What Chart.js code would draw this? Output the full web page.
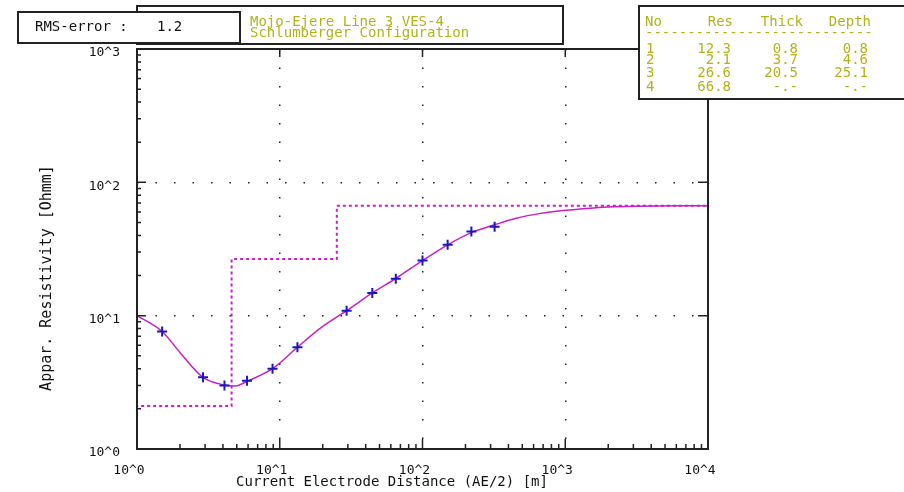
<!DOCTYPE html>
<html>
<head>
<meta charset="utf-8">
<script src="https://cdn.jsdelivr.net/npm/chart.js@4.4.1/dist/chart.umd.min.js"></script>
<style>
  html, body { margin: 0; padding: 0; background: #fff; }
  #wrap { width: 904px; height: 492px; }
</style>
</head>
<body>
<div id="wrap"><canvas id="chart-ves" width="904" height="492"></canvas></div>
<script>
// ── Data ──
const measAB = [1.5, 2.9, 4.1, 5.9, 8.9, 13.3, 29.4, 44.5, 65, 100, 150, 220, 320];
const measRho = [7.6, 3.45, 3.0, 3.25, 4.0, 5.8, 10.9, 14.8, 18.9, 25.9, 34, 42.7, 46.5];

const modelAB = [1, 1.5, 2, 2.9, 4.1, 4.9, 5.9, 8.9, 13.3, 20, 29.4, 44.5, 65, 100, 150, 220, 320, 460, 670, 970, 1500, 2200, 3200, 10000];
const modelRho = [10, 7.6, 5.3, 3.45, 3.02, 2.97, 3.22, 4.0, 5.8, 8.3, 10.9, 14.8, 19.0, 25.9, 34, 42, 48, 54, 58.5, 61.5, 64, 65.5, 66.3, 66.8];

// layered model (table)
const layerNo = ["1", "2", "3", "4"];
const layerRes = [12.3, 2.1, 26.6, 66.8];
const layerThick = [0.8, 3.7, 20.5, null];
const layerDepth = [0.8, 4.6, 25.1, null];

const titleLines = ["Mojo-Ejere Line 3 VES-4", "Schlumberger Configuration"];
const rmsError = "1.2";

const OLIVE = "#b2b21a";
const MAGENTA = "#c81ec8";
const FRAME = "#222";
const MONO = "'DejaVu Sans Mono', monospace";

// step line of the layered model: start left of the axis, step at each depth
const stepX = [0.5, ...layerDepth.filter(d => d !== null), 10000];
const stepY = [...layerRes, layerRes[layerRes.length - 1]];

const isDecade = v => Math.abs(Math.log10(v) - Math.round(Math.log10(v))) < 1e-9;
const expLabel = v => isDecade(v) ? "10^" + Math.round(Math.log10(v)) : "";

// ── Frame, minor ticks, boxes and text ──
const overlay = {
  id: "overlay",
  afterDraw(chart) {
    const { ctx, chartArea: a, scales: { x, y } } = chart;
    ctx.save();
    ctx.strokeStyle = FRAME;
    ctx.lineWidth = 2;
    ctx.strokeRect(a.left, a.top, a.right - a.left, a.bottom - a.top);

    ctx.lineWidth = 1.5;
    ctx.beginPath();
    for (let e = 0; e < 4; e++) {
      for (let k = 1; k <= 9; k++) {
        const v = k * Math.pow(10, e);
        const px = x.getPixelForValue(v);
        const major = k === 1;
        if (v > 1) {
          ctx.moveTo(px, a.bottom); ctx.lineTo(px, a.bottom - (major ? 10 : 5));
          if (major) { ctx.moveTo(px, a.top); ctx.lineTo(px, a.top + 8); }
        }
        if (e < 3 && v > 1) {
          const py = y.getPixelForValue(v);
          ctx.moveTo(a.left, py); ctx.lineTo(a.left + (major ? 9 : 4), py);
          if (major) { ctx.moveTo(a.right, py); ctx.lineTo(a.right - 10, py); }
        }
      }
    }
    ctx.stroke();

    // title box
    ctx.lineWidth = 2;
    ctx.fillStyle = "#fff";
    ctx.fillRect(137, 6, 426, 38);
    ctx.strokeRect(137, 6, 426, 38);
    ctx.fillStyle = OLIVE;
    ctx.font = "14px " + MONO;
    ctx.textBaseline = "middle";
    ctx.textAlign = "left";
    ctx.fillText(titleLines[0], 250, 22);
    ctx.fillText(titleLines[1], 250, 33);

    // RMS box
    ctx.fillStyle = "#fff";
    ctx.fillRect(18, 12, 222, 31);
    ctx.strokeRect(18, 12, 222, 31);
    ctx.fillStyle = "#111";
    ctx.fillText("RMS-error :", 35, 27);
    ctx.fillText(rmsError, 157, 27);

    // layer table box
    ctx.fillStyle = "#fff";
    ctx.fillRect(639, 6, 280, 93);
    ctx.strokeRect(639, 6, 280, 93);
    ctx.fillStyle = OLIVE;
    ctx.textAlign = "left";
    ctx.fillText("No", 645, 22);
    ctx.textAlign = "right";
    ctx.fillText("Res", 733, 22);
    ctx.fillText("Thick", 803, 22);
    ctx.fillText("Depth", 871, 22);
    ctx.textAlign = "left";
    ctx.fillText("-".repeat(27), 645, 33);
    const rowY = [49, 60, 73, 87];
    const fmt = v => v === null ? "-.-" : v.toFixed(1);
    layerNo.forEach((n, i) => {
      ctx.textAlign = "left";
      ctx.fillText(n, 646, rowY[i]);
      ctx.textAlign = "right";
      ctx.fillText(fmt(layerRes[i]), 731, rowY[i]);
      ctx.fillText(fmt(layerThick[i]), 798, rowY[i]);
      ctx.fillText(fmt(layerDepth[i]), 868, rowY[i]);
    });

    // axis titles
    ctx.fillStyle = "#111";
    ctx.textAlign = "center";
    ctx.fillText("Current Electrode Distance (AE/2) [m]", 392, 482);
    ctx.translate(47, 278);
    ctx.rotate(-Math.PI / 2);
    ctx.font = "15px " + MONO;
    ctx.fillText("Appar. Resistivity [Ohmm]", 0, 0);
    ctx.restore();
  },
};

// dotted grid only on inner decades
const gridColor = c => {
  const v = c.tick && c.tick.value;
  const max = c.scale.max;
  return v && isDecade(v) && v > 1 && v < max ? "#222" : "rgba(0,0,0,0)";
};

new Chart(document.getElementById("chart-ves"), {
  data: {
    datasets: [
      {
        type: "scatter",
        label: "Measured",
        data: measAB.map((v, i) => ({ x: v, y: measRho[i] })),
        pointStyle: "cross",
        pointRadius: 5,
        borderColor: "#1818c0",
        borderWidth: 2,
        order: 0,
      },
      {
        type: "line",
        label: "Model curve",
        data: modelAB.map((v, i) => ({ x: v, y: modelRho[i] })),
        borderColor: MAGENTA,
        borderWidth: 1.5,
        pointRadius: 0,
        cubicInterpolationMode: "monotone",
        order: 1,
      },
      {
        type: "line",
        label: "Layer model",
        data: stepX.map((v, i) => ({ x: v, y: stepY[i] })),
        stepped: "before",
        borderColor: MAGENTA,
        borderWidth: 2,
        borderDash: [3, 3],
        pointRadius: 0,
        order: 2,
      },
    ],
  },
  options: {
    responsive: false,
    animation: false,
    events: [],
    layout: { padding: { top: 49, right: 196, bottom: 0, left: 0 } },
    scales: {
      x: {
        type: "logarithmic",
        min: 1,
        max: 10000,
        afterFit: s => { s.height = 43; },
        border: { display: false, dash: [1.5, 17] },
        grid: { drawTicks: false, lineWidth: 1.5, color: gridColor },
        ticks: {
          autoSkip: false,
          maxRotation: 0,
          padding: 14,
          labelOffset: -8,
          color: "#111",
          font: { family: MONO, size: 13 },
          callback: expLabel,
        },
      },
      y: {
        type: "logarithmic",
        min: 1,
        max: 1000,
        afterFit: s => { s.width = 137; },
        border: { display: false, dash: [1.5, 17] },
        grid: { drawTicks: false, lineWidth: 1.5, color: gridColor },
        ticks: {
          autoSkip: false,
          padding: 17,
          labelOffset: 4,
          color: "#111",
          font: { family: MONO, size: 13 },
          callback: expLabel,
        },
      },
    },
    plugins: {
      legend: { display: false },
      tooltip: { enabled: false },
    },
  },
  plugins: [overlay],
});
</script>
</body>
</html>
